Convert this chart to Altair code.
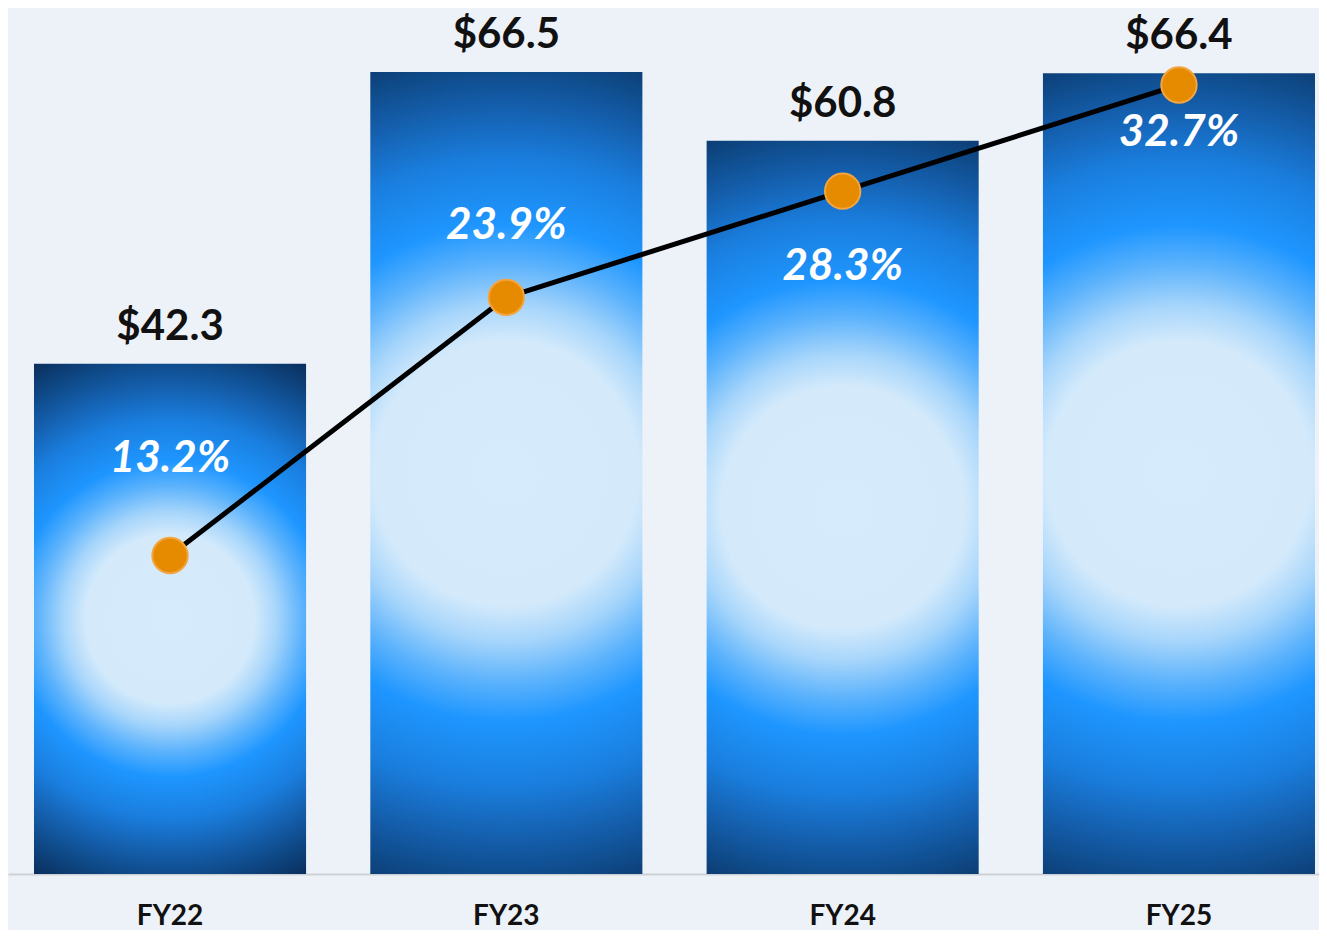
import altair as alt
import pandas as pd

years = ["FY22", "FY23", "FY24", "FY25"]
revenue = [42.3, 66.5, 60.8, 66.4]
revenue_labels = ["$42.3", "$66.5", "$60.8", "$66.4"]
margin = [13.2, 23.9, 28.3, 32.7]
margin_labels = ["13.2%", "23.9%", "28.3%", "32.7%"]
margin_label_pos = [17.2, 26.85, 25.16, 30.71]

df = pd.DataFrame({
    "year": years,
    "revenue": revenue,
    "rev_label": revenue_labels,
    "margin": margin,
    "m_label": margin_labels,
    "m_pos": margin_label_pos,
})

BG = "#EDF2F9"
W = 1311
H = 866

stops_spec = [
    (0.0, "#D6EBFC"), (0.275, "#D4EAFB"), (0.35, "#A6D5FB"), (0.433, "#5DB3FC"),
    (0.517, "#1E96FF"), (0.65, "#1A7EDE"), (0.767, "#145DAA"), (0.833, "#0F4C8C"),
    (0.95, "#0A2D5A"), (1.0, "#082650"),
]
grad = alt.RadialGradient(
    gradient="radial",
    stops=[alt.GradientStop(offset=o, color=c) for o, c in stops_spec],
    x1=0.5, y1=0.5, x2=0.5, y2=0.5, r1=0, r2=0.6,
)

x_enc = alt.X(
    "year:N", sort=years,
    scale=alt.Scale(range=[0, 1333], paddingInner=0.191, paddingOuter=0.0773),
    axis=alt.Axis(title=None, labelAngle=0, labelFont="Lato", labelFontSize=28,
                  labelFontWeight="bold", labelColor="#111111", ticks=False,
                  domainColor="#CDD1D6", domainWidth=2, labelBaseline="alphabetic",
                  labelPadding=50, grid=False),
)

rev_scale = alt.Scale(domain=[0, 71.8], nice=False, zero=True)
pct_scale = alt.Scale(domain=[0, 35.89], nice=False, zero=True)

base = alt.Chart(df)

bars = base.mark_bar(fill=grad, strokeWidth=0).encode(
    x=x_enc,
    y=alt.Y("revenue:Q", scale=rev_scale, axis=None),
)
bar_text = base.mark_text(font="Lato", fontSize=42, fontWeight="bold", color="#111111",
                          baseline="alphabetic", dy=-24).encode(
    x=alt.X("year:N", sort=years),
    y=alt.Y("revenue:Q", scale=rev_scale, axis=None),
    text="rev_label:N",
)
left = alt.layer(bars, bar_text)

line = base.mark_line(color="#000000", strokeWidth=5).encode(
    x=alt.X("year:N", sort=years),
    y=alt.Y("margin:Q", scale=pct_scale, axis=None),
)
points = base.mark_point(filled=True, shape="circle", size=1250, fill="#E68A00",
                         stroke="#F2A541", strokeWidth=2, opacity=1).encode(
    x=alt.X("year:N", sort=years),
    y=alt.Y("margin:Q", scale=pct_scale, axis=None),
)
pct_text = base.mark_text(font="Lato", fontSize=44, fontWeight="bold", fontStyle="italic",
                          color="#FFFFFF", baseline="middle").encode(
    x=alt.X("year:N", sort=years),
    y=alt.Y("m_pos:Q", scale=pct_scale, axis=None),
    text="m_label:N",
)
right = alt.layer(line, points, pct_text)

chart = alt.layer(left, right).resolve_scale(y="independent").properties(
    width=W, height=H,
    autosize=alt.AutoSizeParams(type="none"),
    padding={"left": 0, "right": 0, "top": 0, "bottom": 56},
    background=BG,
).configure_view(stroke=None)

chart.save("out.html", embed_options={"renderer": "svg", "actions": False})
